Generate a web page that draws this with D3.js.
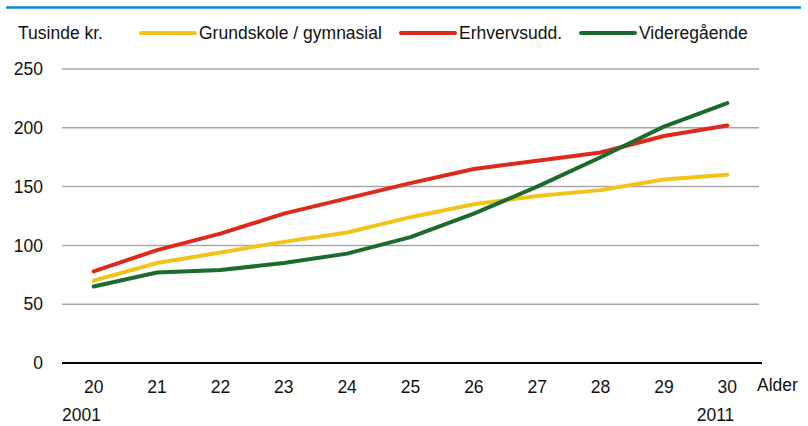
<!DOCTYPE html>
<html>
<head>
<meta charset="utf-8">
<script src="https://cdn.jsdelivr.net/npm/d3@7"></script>
<style>
  body { margin: 0; background: #fff; }
  svg { display: block; font-family: "Liberation Sans", Arial, sans-serif; }
</style>
</head>
<body>
<svg id="chart" width="808" height="426"></svg>
<script>
// data
const ages = ["20", "21", "22", "23", "24", "25", "26", "27", "28", "29", "30"];
const grundskole = [70, 85, 94, 103, 111, 124, 135, 142, 147, 156, 160];
const erhverv = [78, 96, 110, 127, 140, 153, 165, 172, 179, 193, 202];
const videre = [65, 77, 79, 85, 93, 107, 127, 150, 175, 201, 221];
const yTicks = [0, 50, 100, 150, 200, 250];

const series = [
  { name: "Grundskole / gymnasial", values: grundskole, color: "#F2C318" },
  { name: "Erhvervsudd.", values: erhverv, color: "#DE2A1C" },
  { name: "Videregående", values: videre, color: "#1B6B2C" }
];

const svg = d3.select("#chart");
const margin = { top: 69, left: 62, right: 49, bottom: 63 };
const width = 808, height = 426;
const fs = "17.5px";

const x = d3.scaleBand()
  .domain(ages)
  .range([margin.left, width - margin.right]);

const y = d3.scaleLinear()
  .domain([0, 250])
  .range([height - margin.bottom, margin.top]);

// blue rule at top
svg.append("line")
  .attr("x1", 6).attr("x2", 801)
  .attr("y1", 7.5).attr("y2", 7.5)
  .attr("stroke", "#0A88CC")
  .attr("stroke-width", 2.5);

// gridlines
svg.append("g")
  .selectAll("line")
  .data(yTicks.filter(d => d > 0))
  .join("line")
  .attr("x1", margin.left).attr("x2", width - margin.right)
  .attr("y1", d => y(d)).attr("y2", d => y(d))
  .attr("stroke", "#A6A6A6")
  .attr("stroke-width", 1.5);

// y labels
svg.append("g")
  .selectAll("text")
  .data(yTicks)
  .join("text")
  .attr("x", 43)
  .attr("y", d => y(d))
  .attr("dy", "0.35em")
  .attr("text-anchor", "end")
  .style("font-size", fs)
  .attr("fill", "#111")
  .text(d => d);

// lines
const line = d3.line()
  .x((d, i) => x(ages[i]) + x.bandwidth() / 2)
  .y(d => y(d));

svg.append("g")
  .selectAll("path")
  .data(series)
  .join("path")
  .attr("d", d => line(d.values))
  .attr("fill", "none")
  .attr("stroke", d => d.color)
  .attr("stroke-width", 4)
  .attr("stroke-linecap", "round")
  .attr("stroke-linejoin", "round");

// baseline
svg.append("line")
  .attr("x1", margin.left).attr("x2", width - margin.right + 3)
  .attr("y1", y(0)).attr("y2", y(0))
  .attr("stroke", "#000")
  .attr("stroke-width", 2);

// x labels
svg.append("g")
  .selectAll("text")
  .data(ages)
  .join("text")
  .attr("x", d => x(d) + x.bandwidth() / 2)
  .attr("y", 387)
  .attr("dy", "0.35em")
  .attr("text-anchor", "middle")
  .style("font-size", fs)
  .attr("fill", "#111")
  .text(d => d);

svg.append("text")
  .attr("x", 757).attr("y", 385).attr("dy", "0.35em")
  .style("font-size", fs).attr("fill", "#111")
  .text("Alder");

svg.append("text")
  .attr("x", margin.left).attr("y", 415).attr("dy", "0.35em")
  .style("font-size", fs).attr("fill", "#111")
  .text("2001");

svg.append("text")
  .attr("x", x("30") + x.bandwidth() / 2 + 7).attr("y", 415).attr("dy", "0.35em")
  .attr("text-anchor", "end")
  .style("font-size", fs).attr("fill", "#111")
  .text("2011");

// header / legend
svg.append("text")
  .attr("x", 18).attr("y", 33).attr("dy", "0.35em")
  .style("font-size", fs).attr("fill", "#111")
  .text("Tusinde kr.");

const legendX = [141, 401, 581];
const legend = svg.append("g")
  .selectAll("g")
  .data(series)
  .join("g")
  .attr("transform", (d, i) => `translate(${legendX[i]}, 33)`);

legend.append("line")
  .attr("x1", 0).attr("x2", 54)
  .attr("stroke", d => d.color)
  .attr("stroke-width", 4)
  .attr("stroke-linecap", "round");

legend.append("text")
  .attr("x", 58)
  .attr("dy", "0.35em")
  .style("font-size", fs)
  .attr("fill", "#111")
  .text(d => d.name);
</script>
</body>
</html>
